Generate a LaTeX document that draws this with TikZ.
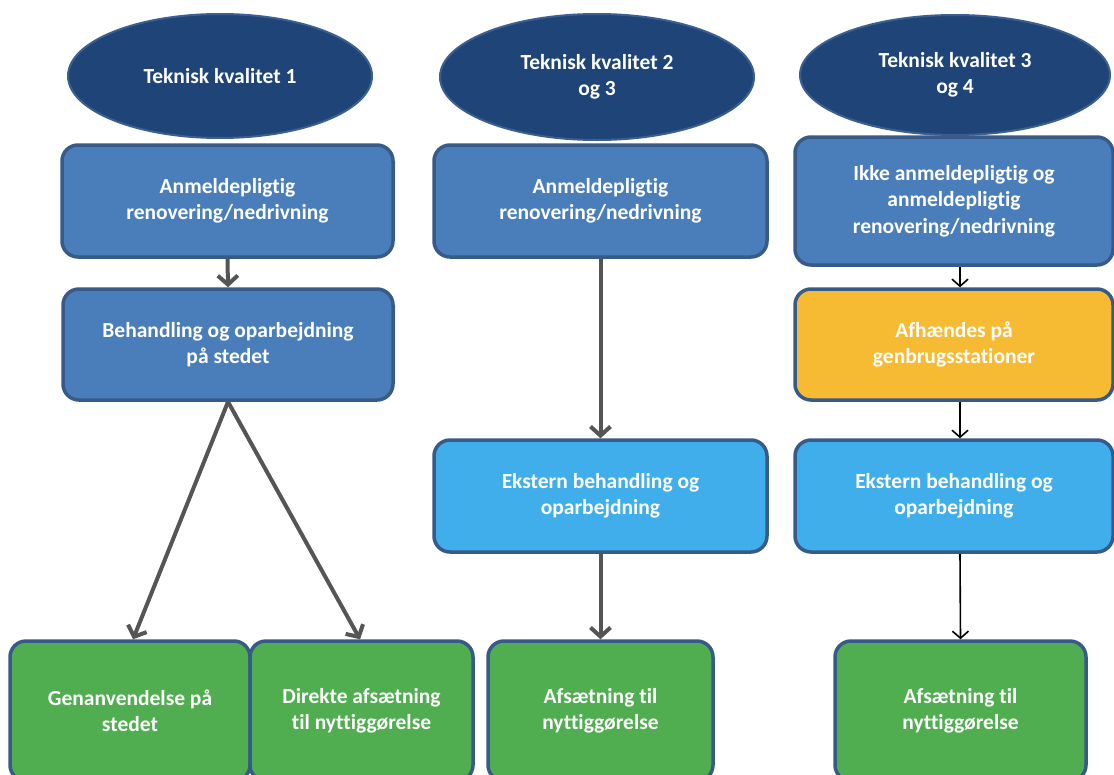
\documentclass[tikz,border=0pt]{standalone}
\usepackage{fontspec}
\setmainfont{Carlito}[Ligatures={NoCommon}]
\usetikzlibrary{arrows.meta,shapes.geometric}
\definecolor{navy}{HTML}{1F4478}
\definecolor{navyedge}{HTML}{3C5F92}
\definecolor{midblue}{HTML}{4A7EBB}
\definecolor{edgeblue}{HTML}{375A88}
\definecolor{skyblue}{HTML}{3FAEEA}
\definecolor{yel}{HTML}{F6BB33}
\definecolor{grn}{HTML}{50AE50}
\definecolor{arrgray}{HTML}{555555}
\tikzset{
  txt/.style={text=white,font=\fontsize{21.5}{26.5}\selectfont\bfseries,align=center},
  oval/.style={ellipse,txt,fill=navy,draw=navyedge,line width=2pt,inner sep=0pt},
  box/.style={rounded corners=16pt,txt,draw=edgeblue,line width=3.5pt,inner sep=0pt},
  bluebox/.style={box,fill=midblue},
  skybox/.style={box,fill=skyblue},
  yelbox/.style={box,fill=yel},
  grnbox/.style={box,fill=grn},
  thickarr/.style={draw=arrgray,line width=4pt,-{Straight Barb[length=9pt,width=20pt,line width=4pt]}},
  thinarr/.style={draw=black,line width=1.6pt,-{Straight Barb[length=7pt,width=16pt,line width=1.6pt]}}
}
\begin{document}
\begin{tikzpicture}[x=1pt,y=-1pt]
\clip (0,0) rectangle (1114,774);
\fill[white] (0,0) rectangle (1114,774);
% ovals
\node[oval,minimum width=304pt,minimum height=124pt] (e1) at (220,76) {Teknisk kvalitet 1};
\node[oval,minimum width=314pt,minimum height=126pt] (e2) at (597,77) {Teknisk kvalitet 2\\og 3};
\node[oval,minimum width=310pt,minimum height=120pt] (e3) at (955,75) {Teknisk kvalitet 3\\og 4};
% column 1
\node[bluebox,minimum width=331pt,minimum height=112pt] (a1) at (227.5,201) {Anmeldepligtig\\renovering/nedrivning};
\node[bluebox,minimum width=330pt,minimum height=111pt] (b1) at (228,344.5) {Behandling og oparbejdning\\på stedet};
\node[grnbox,minimum width=240pt,minimum height=140pt] (g1) at (130,711) {Genanvendelse på\\stedet};
\node[grnbox,minimum width=223pt,minimum height=140pt] (g2) at (361.5,711) {Direkte afsætning\\til nyttiggørelse};
% column 2
\node[bluebox,minimum width=333pt,minimum height=112pt] (a2) at (600.5,201) {Anmeldepligtig\\renovering/nedrivning};
\node[skybox,minimum width=333pt,minimum height=112pt] (x2) at (600.5,496) {Ekstern behandling og\\oparbejdning};
\node[grnbox,minimum width=225pt,minimum height=140pt] (g3) at (600.5,711) {Afsætning til\\nyttiggørelse};
% column 3
\node[bluebox,minimum width=318pt,minimum height=128pt] (a3) at (954,201) {Ikke anmeldepligtig og\\anmeldepligtig\\renovering/nedrivning};
\node[yelbox,minimum width=318pt,minimum height=111pt] (y3) at (954,344.5) {Afhændes på\\genbrugsstationer};
\node[skybox,minimum width=318pt,minimum height=112pt] (x3) at (954,496) {Ekstern behandling og\\oparbejdning};
\node[grnbox,minimum width=251pt,minimum height=140pt] (g4) at (960.5,711) {Afsætning til\\nyttiggørelse};
% arrows
\draw[thickarr] (a1.south) -- (b1.north);
\draw[thickarr] (b1.south) -- ([xshift=3pt]g1.north);
\draw[thickarr] (b1.south) -- ([xshift=-1.5pt]g2.north);
\draw[thickarr] (a2.south) -- (x2.north);
\draw[thickarr] (x2.south) -- (g3.north);
\draw[thinarr] ([xshift=6pt]a3.south) -- ([xshift=6pt]y3.north);
\draw[thinarr] ([xshift=6pt]y3.south) -- ([xshift=6pt]x3.north);
\draw[thinarr] ([xshift=6pt]x3.south) -- (g4.north);
\end{tikzpicture}
\end{document}
